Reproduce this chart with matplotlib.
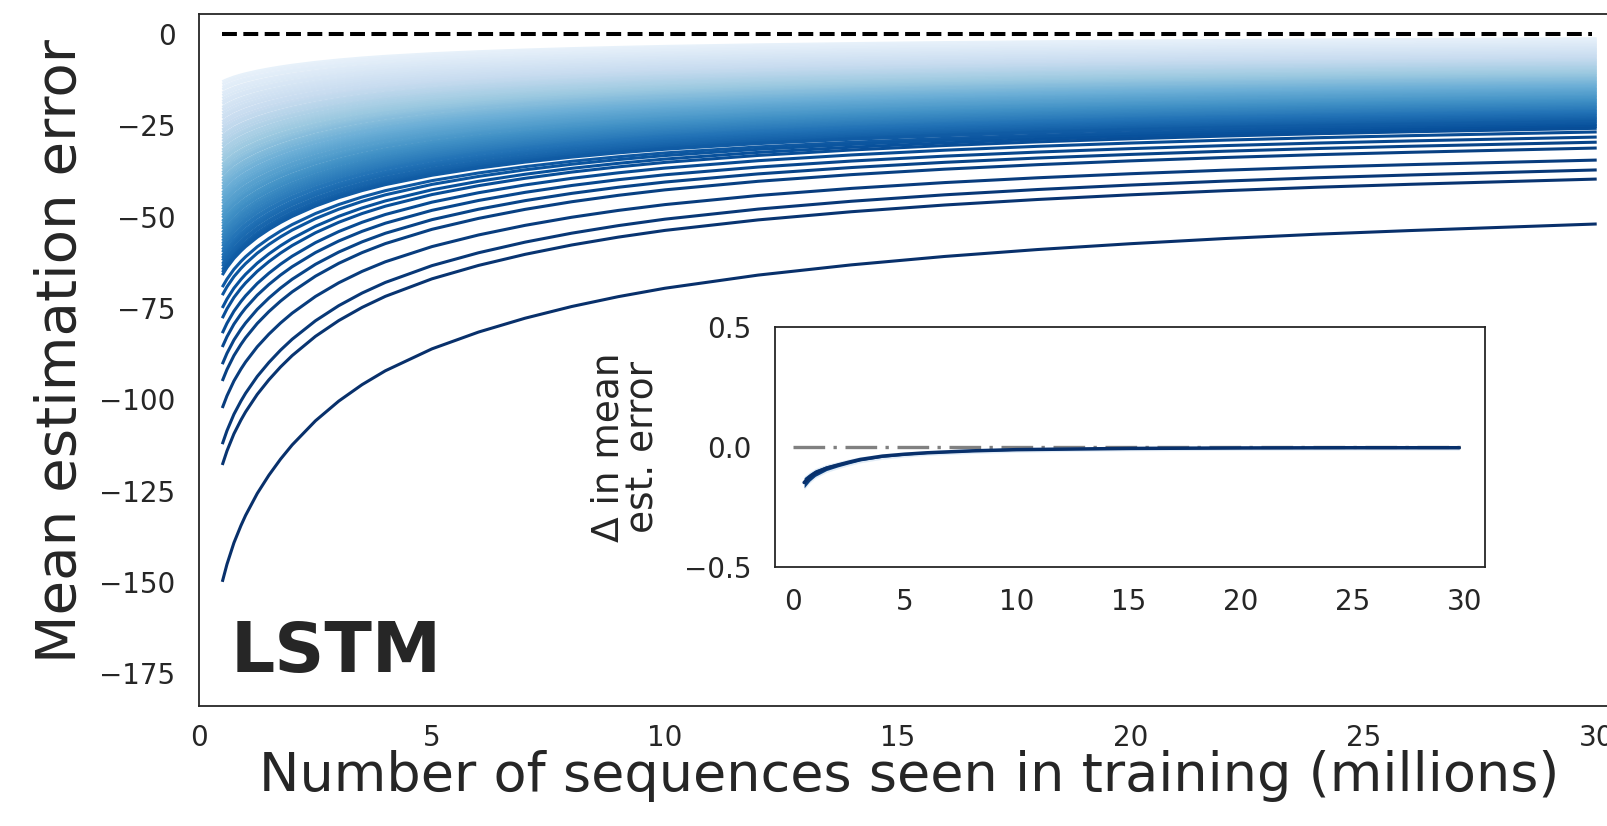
import numpy as np
import matplotlib
matplotlib.use("Agg")
import matplotlib.pyplot as plt
import seaborn as sns

sns.set_style("white")
plt.rcParams["font.family"] = ["DejaVu Sans"]

# training progress (millions of sequences) where the curves are sampled
x_knots = [0.5, 0.6, 0.75, 0.9, 1.0, 1.25, 1.5, 1.75, 2.0, 2.5, 3.0, 3.5, 4.0,
           5.0, 6.0, 7.0, 8.0, 9.0, 10.0, 12.0, 14.0, 16.0, 18.0, 20.0, 22.0,
           24.0, 26.0, 28.0, 30.0]

# lowest (worst) curve, used as the common decay profile
worst_curve = [-150, -145.2, -139.3, -134.6, -131.8, -125.8, -120.8, -116.4,
               -112.5, -105.9, -100.5, -96.0, -92.2, -86.2, -81.6, -77.8,
               -74.6, -71.9, -69.6, -66.0, -63.2, -60.9, -59.0, -57.4, -56.0,
               -54.8, -53.8, -52.9, -52.0]

# error at the first and last checkpoint for every run, worst run first
start_err = [-150, -118, -112.3, -102.4, -95, -90.4, -85.7, -81.9, -77.8,
             -75, -71.5, -69.3, -66,
             -65.2, -64.5, -63.6, -62.9, -62.0, -61.3, -60.6, -59.7, -59.0,
             -58.1, -57.4, -56.6, -55.8, -55.1, -54.3, -53.4, -52.7, -51.9,
             -51.2, -50.3, -49.6, -48.8, -48.0, -47.3, -46.4, -45.7, -44.9,
             -44.1, -43.4, -42.5, -41.8, -41.0, -40.2, -39.5, -38.6, -37.9,
             -37.1, -36.3, -35.6, -34.7, -34.0, -33.2, -32.4, -31.7, -30.8,
             -30.1, -29.3, -28.5, -27.8, -26.9, -26.2, -25.4, -24.6, -23.9,
             -23.0, -22.3, -21.5, -20.7, -20.0, -19.1, -18.4, -17.6, -16.8,
             -16.1, -15.2, -14.5, -13.7, -13.0]
end_err = [-52, -39.7, -37.2, -34.5, -31.2, -29.6, -28.2, -26.8, -25.8,
           -25.3, -24.9, -24.5, -24.0,
           -23.7, -23.3, -23.0, -22.7, -22.3, -22.0, -21.7, -21.3, -21.0,
           -20.7, -20.3, -20.0, -19.7, -19.3, -19.0, -18.7, -18.3, -18.0,
           -17.7, -17.3, -17.0, -16.7, -16.3, -16.0, -15.7, -15.3, -15.0,
           -14.7, -14.3, -14.0, -13.7, -13.3, -13.0, -12.7, -12.3, -12.0,
           -11.7, -11.3, -11.0, -10.7, -10.3, -10.0, -9.7, -9.3, -9.0,
           -8.7, -8.3, -8.0, -7.7, -7.3, -7.0, -6.7, -6.3, -6.0, -5.7,
           -5.3, -5.0, -4.7, -4.3, -4.0, -3.7, -3.3, -3.0, -2.7, -2.3,
           -2.0, -1.6, -1.2, -0.9]

# change in mean estimation error between checkpoints (inset)
delta_x = [0.5, 0.75, 1.0, 1.5, 2.0, 2.5, 3.0, 4.0, 5.0, 6.0, 8.0, 10.0,
           12.0, 15.0, 20.0, 25.0, 29.75]
delta_mean = [-0.148, -0.125, -0.108, -0.088, -0.075, -0.063, -0.052,
              -0.038, -0.030, -0.024, -0.016, -0.011, -0.009, -0.006,
              -0.004, -0.003, -0.003]
delta_low = [-0.170, -0.142, -0.122, -0.098, -0.083, -0.070, -0.058,
             -0.043, -0.034, -0.027, -0.019, -0.014, -0.011, -0.008,
             -0.006, -0.005, -0.005]
delta_high = [-0.128, -0.110, -0.095, -0.078, -0.067, -0.056, -0.047,
              -0.034, -0.026, -0.021, -0.013, -0.009, -0.007, -0.004,
              -0.002, -0.001, -0.001]

xk = np.array(x_knots)
worst = np.array(worst_curve)
decay = (worst - worst[-1]) / (worst[0] - worst[-1])

fig = plt.figure(figsize=(16.08, 8.26), dpi=100)
ax = fig.add_axes([199 / 1608, 1 - 706 / 826, 1421 / 1608, 692 / 826])

n = len(start_err)
n_separate = 13
cmap = plt.get_cmap("Blues")
# lightest runs first so the dark ones sit on top
for i in range(n - 1, -1, -1):
    y = end_err[i] + (start_err[i] - end_err[i]) * decay
    shade = 1.0 - 0.92 * (i / (n - 1)) ** 0.9
    lw = 2.2 if i < n_separate else 1.9
    ax.plot(xk, y, color=cmap(shade), lw=lw, solid_capstyle="butt")

ax.plot([0.5, 29.9], [0, 0], color="black", ls="--", lw=2.9)

ax.set_xlim(0, 30.5)
ax.set_ylim(-184.0, 5.5)
ax.set_xticks(range(0, 31, 5))
ax.set_yticks(range(-175, 1, 25))
ax.tick_params(labelsize=20, colors="#262626", length=0)
ax.tick_params(axis="y", pad=17)
ax.tick_params(axis="x", pad=13)
for s in ax.spines.values():
    s.set_color("#262626")
    s.set_linewidth(1.3)

ax.set_xlabel("Number of sequences seen in training (millions)",
              fontsize=39, color="#262626")
ax.set_ylabel("Mean estimation error", fontsize=40.5, color="#262626")
ax.xaxis.set_label_coords(0.5, -0.064)
ax.yaxis.set_label_coords(-0.0785, 0.513)

ax.text(0.0225, 0.049, "LSTM", transform=ax.transAxes, fontsize=50,
        fontweight="bold", color="#262626", va="baseline", ha="left")

# inset: change between checkpoints
ins = fig.add_axes([775 / 1608, 1 - 567 / 826, 710 / 1608, 240 / 826])
ins.plot([0, 30], [0, 0], color="#808080", lw=2.4,
         ls=(0, (9.5, 2.5, 1, 2.6)), zorder=1)
ins.fill_between(delta_x, np.array(delta_low) - 0.008,
                 np.array(delta_high) + 0.006, color=cmap(0.25), alpha=0.5,
                 lw=0, zorder=2)
ins.fill_between(delta_x, delta_low, delta_high, color=cmap(0.95), lw=0,
                 zorder=3)
ins.plot(delta_x, delta_mean, color=cmap(1.0), lw=2.5, zorder=4)
ins.set_xlim(-0.8, 30.9)
ins.set_ylim(-0.5, 0.5)
ins.set_xticks(range(0, 31, 5))
ins.set_yticks([-0.5, 0.0, 0.5])
ins.tick_params(labelsize=20, colors="#262626", length=0)
ins.tick_params(axis="y", pad=17)
ins.tick_params(axis="x", pad=15)
for s in ins.spines.values():
    s.set_color("#262626")
    s.set_linewidth(1.3)
ins.set_ylabel("\u0394 in mean\nest. error", fontsize=27, color="#262626",
               linespacing=0.95)
ins.yaxis.set_label_coords(-0.16, 0.5)

fig.savefig("out.png", dpi=100)
